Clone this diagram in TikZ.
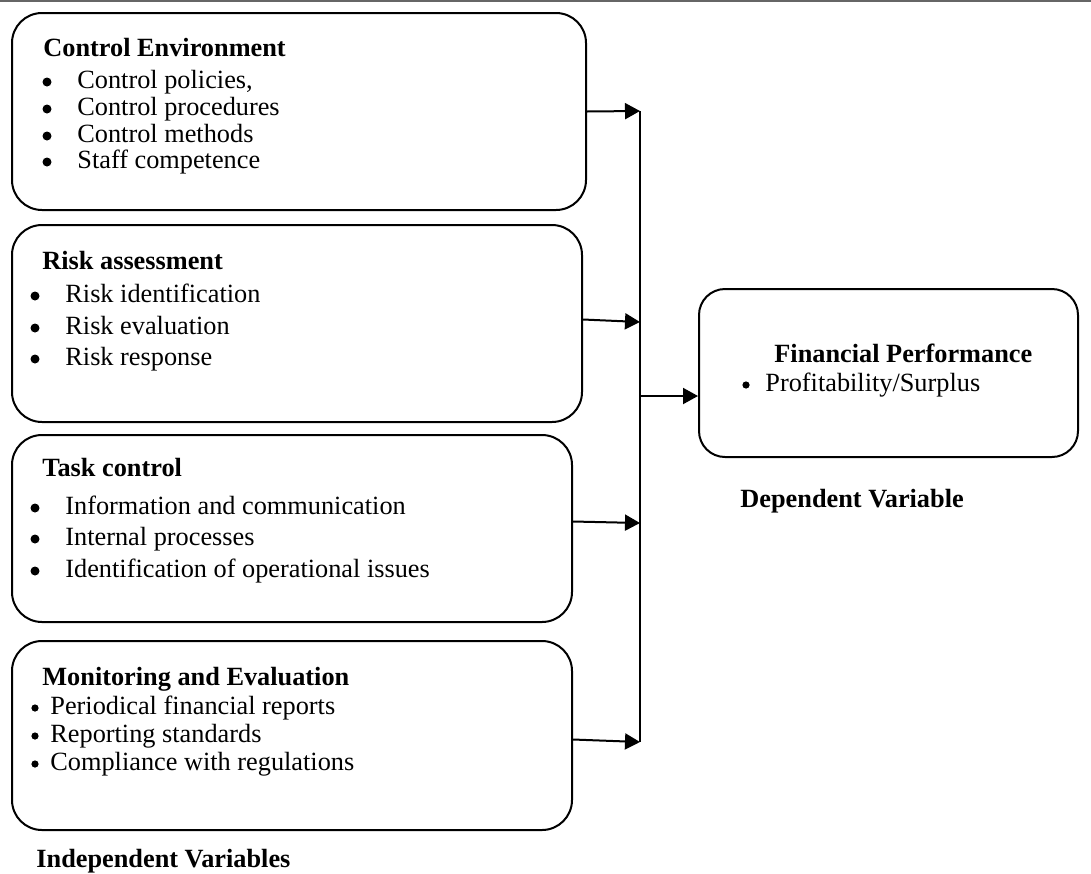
\documentclass[tikz,border=0pt]{standalone}
\usepackage{fontspec}
\setmainfont{Liberation Serif}
\usetikzlibrary{arrows.meta,fit}
\begin{document}
\begin{tikzpicture}[x=0.5pt,y=-0.5pt,
  box/.style={draw, line width=1pt, rounded corners=15pt, inner sep=0pt},
  txt/.style={anchor=base west, inner sep=0pt, font=\fontsize{13.15}{15}\selectfont},
  ttl/.style={txt, font=\fontsize{13.15}{15}\selectfont\bfseries},
  dot/.style={circle, fill, draw=none, inner sep=0pt, minimum size=4.5pt},
  sdot/.style={dot, minimum size=3.6pt},
  conn/.style={line width=1pt, -{Triangle[length=7.5pt,width=8pt]}},
  bus/.style={line width=1pt}]
\useasboundingbox (0,0) rectangle (1091,873);
\draw[line width=1pt, gray!80!black] (0,0.75) -- (1091,0.75);

% boxes
\node[box, fit={(12,13)(586,210)}] (b1) {};
\node[box, fit={(12,225)(582,422)}] (b2) {};
\node[box, fit={(12,435)(572,622)}] (b3) {};
\node[box, fit={(12,641)(572,830)}] (b4) {};
\node[box, rounded corners=13pt, fit={(699,289)(1078,457)}] (dv) {};

% box 1
\node[ttl] (t1) at (43,56) {Control Environment};
\node[dot] (t1b1) at (47,82) {};
\node[txt] (t1i1) at (77,88) {Control policies,};
\node[dot] (t1b2) at (47,109) {};
\node[txt] (t1i2) at (77,115) {Control procedures};
\node[dot] (t1b3) at (47,136) {};
\node[txt] (t1i3) at (77,142) {Control methods};
\node[dot] (t1b4) at (47,162) {};
\node[txt] (t1i4) at (77,168) {Staff competence};

% box 2
\node[ttl] (t2) at (42,269) {Risk assessment};
\node[dot] (t2b1) at (35,296) {};
\node[txt] (t2i1) at (65,302) {Risk identification};
\node[dot] (t2b2) at (35,328) {};
\node[txt] (t2i2) at (65,334) {Risk evaluation};
\node[dot] (t2b3) at (35,359) {};
\node[txt] (t2i3) at (65,365) {Risk response};

% box 3
\node[ttl] (t3) at (42,476) {Task control};
\node[dot] (t3b1) at (35,508) {};
\node[txt] (t3i1) at (65,514) {Information and communication};
\node[dot] (t3b2) at (35,539) {};
\node[txt] (t3i2) at (65,545) {Internal processes};
\node[dot] (t3b3) at (35,571) {};
\node[txt] (t3i3) at (65,577) {Identification of operational issues};

% box 4
\node[ttl] (t4) at (42,685) {Monitoring and Evaluation};
\node[sdot] (t4b1) at (35,708) {};
\node[txt] (t4i1) at (50,714) {Periodical financial reports};
\node[sdot] (t4b2) at (35,736) {};
\node[txt] (t4i2) at (50,742) {Reporting standards};
\node[sdot] (t4b3) at (35,764) {};
\node[txt] (t4i3) at (50,770) {Compliance with regulations};

\node[ttl] (iv) at (36,867) {Independent Variables};

% dependent
\node[ttl] (t5) at (774,362) {Financial Performance};
\node[sdot] (t5b1) at (746,385) {};
\node[txt] (t5i1) at (765,391) {Profitability/Surplus};
\node[ttl] (dvl) at (740,507) {Dependent Variable};

% connectors
\coordinate (p1) at (640,111);
\coordinate (p2) at (640,322);
\coordinate (p3) at (640,523);
\coordinate (p4) at (640,742);
\coordinate (pm) at (640,396);
\draw[bus] (p1) -- (p4);
\draw[conn] (b1.east) -- (p1);
\draw[conn] ([yshift=2pt]b2.east) -- (p2);
\draw[conn] ([yshift=3.5pt]b3.east) -- (p3);
\draw[conn] ([yshift=-2pt]b4.east) -- (p4);
\draw[conn] (pm) -- (pm -| dv.west);
\end{tikzpicture}
\end{document}
